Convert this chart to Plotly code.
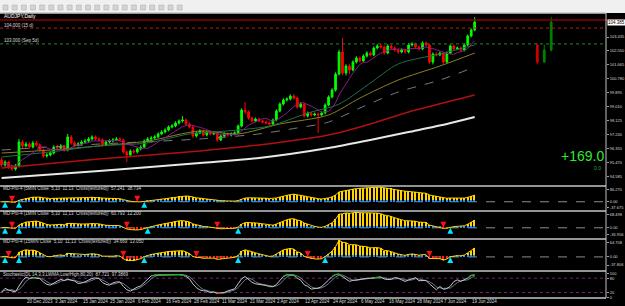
import numpy as np
import pandas as pd
import plotly.graph_objects as go

# ---------------- data ----------------
symbol_title = "AUDJPY,Daily"
first_day = "2023-12-08"
last_day = "2024-06-20"
holidays = ["2023-12-25", "2024-01-01"]

opens = [95.65, 95.33, 95.52, 95.21, 95.08, 95.27, 96.79, 96.54, 96.66, 96.47,
         96.73, 96.60, 96.28, 95.90, 95.97, 96.09, 96.47, 96.41, 96.54, 96.28,
         97.11, 96.73, 96.60, 96.66, 96.79, 96.85, 96.98, 97.11, 96.98, 96.92,
         96.60, 96.79, 96.85, 96.92, 96.98, 96.92, 96.16, 95.97, 96.22, 96.16,
         96.35, 96.47, 96.85, 96.98, 97.04, 97.11, 97.30, 97.42, 97.55, 97.74,
         97.80, 97.99, 98.12, 98.18, 97.93, 97.74, 97.17, 97.36, 97.49, 97.23,
         97.42, 97.30, 97.36, 96.92, 97.17, 97.30, 97.23, 97.30, 97.36, 97.80,
         98.81, 98.69, 98.31, 98.12, 98.24, 98.12, 98.05, 97.99, 97.93, 98.18,
         98.75, 99.19, 99.45, 99.51, 99.70, 99.57, 99.00, 99.19, 98.43, 98.62,
         98.50, 98.56, 98.50, 98.62, 99.13, 99.64, 100.08, 101.09, 102.49, 101.16,
         101.60, 101.35, 101.85, 102.11, 101.92, 102.23, 102.42, 102.30, 102.74, 102.87,
         102.80, 102.42, 102.87, 102.74, 102.61, 102.49, 102.61, 102.49, 102.93, 102.99,
         102.80, 102.68, 103.06, 102.93, 101.85, 102.36, 102.30, 102.42, 101.85, 102.42,
         102.87, 102.68, 102.74, 102.61, 102.93, 103.50, 103.88]
highs = [95.80, 95.63, 95.60, 95.35, 95.40, 96.98, 96.92, 96.80, 96.78, 96.85,
         96.86, 96.70, 96.36, 96.08, 96.20, 96.58, 96.60, 96.66, 96.62, 97.30,
         97.22, 96.85, 96.78, 96.90, 96.98, 97.10, 97.22, 97.20, 97.08, 97.02,
         96.90, 96.96, 97.04, 97.10, 97.08, 97.00, 96.25, 96.32, 96.33, 96.45,
         96.58, 96.95, 97.10, 97.16, 97.22, 97.40, 97.54, 97.66, 97.84, 97.92,
         98.10, 98.22, 98.43, 98.28, 98.02, 97.84, 97.46, 97.60, 97.58, 97.52,
         97.52, 97.48, 97.44, 97.28, 97.40, 97.38, 97.40, 97.46, 97.90, 98.92,
         99.32, 98.78, 98.40, 98.34, 98.32, 98.20, 98.14, 98.08, 98.28, 98.86,
         99.30, 99.56, 99.62, 99.80, 99.82, 99.66, 99.30, 99.28, 98.72, 98.70,
         98.66, 98.66, 98.72, 99.24, 99.74, 100.20, 101.20, 102.62, 103.37, 101.72,
         101.75, 101.96, 102.22, 102.20, 102.34, 102.54, 102.52, 102.84, 102.98, 102.98,
         102.90, 102.98, 102.96, 102.84, 102.70, 102.72, 102.70, 103.04, 103.10, 103.08,
         102.90, 103.16, 103.16, 103.02, 102.46, 102.46, 102.52, 102.50, 102.52, 102.96,
         102.96, 102.84, 102.84, 103.04, 103.60, 103.98, 104.70]
lows = [95.20, 95.22, 95.10, 94.96, 94.98, 95.18, 96.40, 96.45, 96.36, 96.38,
        96.50, 96.18, 95.78, 95.80, 95.88, 96.00, 96.32, 96.30, 96.18, 96.20,
        96.62, 96.48, 96.50, 96.55, 96.70, 96.74, 96.88, 96.88, 96.80, 96.50,
        96.52, 96.70, 96.76, 96.84, 96.82, 96.05, 95.52, 95.88, 96.04, 96.06,
        96.26, 96.40, 96.76, 96.88, 96.95, 97.02, 97.22, 97.34, 97.46, 97.66,
        97.72, 97.90, 98.02, 97.84, 97.64, 97.06, 97.08, 97.28, 97.14, 97.14,
        97.20, 97.22, 96.80, 96.84, 97.08, 97.12, 97.14, 97.22, 97.28, 97.72,
        98.58, 98.20, 98.02, 98.04, 98.02, 97.96, 97.90, 97.84, 97.86, 98.10,
        98.66, 99.10, 99.36, 99.42, 99.46, 98.90, 98.92, 98.34, 98.34, 98.40,
        98.42, 97.36, 98.42, 98.54, 99.06, 99.56, 99.98, 101.00, 101.02, 101.00,
        101.08, 101.26, 101.76, 101.82, 101.84, 102.14, 102.20, 102.22, 102.66, 102.70,
        102.32, 102.34, 102.64, 102.50, 102.38, 102.40, 102.38, 102.40, 102.84, 102.70,
        102.58, 102.60, 102.84, 101.74, 101.70, 102.20, 102.22, 101.74, 101.78, 102.34,
        102.58, 102.60, 102.52, 102.52, 102.86, 103.42, 103.80]
closes = [95.33, 95.52, 95.21, 95.08, 95.27, 96.79, 96.54, 96.66, 96.47, 96.73,
          96.60, 96.28, 95.90, 95.97, 96.09, 96.47, 96.41, 96.54, 96.28, 97.11,
          96.73, 96.60, 96.66, 96.79, 96.85, 96.98, 97.11, 96.98, 96.92, 96.60,
          96.79, 96.85, 96.92, 96.98, 96.92, 96.16, 95.97, 96.22, 96.16, 96.35,
          96.47, 96.85, 96.98, 97.04, 97.11, 97.30, 97.42, 97.55, 97.74, 97.80,
          97.99, 98.12, 98.18, 97.93, 97.74, 97.17, 97.36, 97.49, 97.23, 97.42,
          97.30, 97.36, 96.92, 97.17, 97.30, 97.23, 97.30, 97.36, 97.80, 98.81,
          98.69, 98.31, 98.12, 98.24, 98.12, 98.05, 97.99, 97.93, 98.18, 98.75,
          99.19, 99.45, 99.51, 99.70, 99.57, 99.00, 99.19, 98.43, 98.62, 98.50,
          98.56, 98.50, 98.62, 99.13, 99.64, 100.08, 101.09, 102.49, 101.16, 101.60,
          101.35, 101.85, 102.11, 101.92, 102.23, 102.42, 102.30, 102.74, 102.87, 102.80,
          102.42, 102.87, 102.74, 102.61, 102.49, 102.61, 102.49, 102.93, 102.99, 102.80,
          102.68, 103.06, 102.93, 101.85, 102.36, 102.30, 102.42, 101.85, 102.42, 102.87,
          102.68, 102.74, 102.61, 102.93, 103.50, 103.88, 104.385]

# moving-average lines (bar number, price)
ma_white_bars = [0, 28, 57, 74, 94, 106, 117, 128, 136]
ma_white = [94.51, 94.95, 95.46, 95.78, 96.41, 96.92, 97.42, 97.93, 98.37]
ma_red_bars = [0, 28, 57, 74, 94, 106, 117, 128, 136]
ma_red = [95.14, 95.71, 96.22, 96.60, 97.23, 97.93, 98.69, 99.32, 99.76]
ma_grey_bars = [0, 28, 57, 74, 85, 94, 103, 114, 126, 136]
ma_grey = [96.28, 96.66, 96.98, 97.30, 97.68, 98.05, 98.94, 99.95, 100.71, 101.54]
ma_olive_bars = [0, 14, 28, 42, 57, 68, 80, 94, 103, 114, 126, 136]
ma_olive = [96.09, 96.28, 96.54, 96.85, 97.49, 97.30, 97.93, 98.50, 99.57, 100.71, 101.60, 102.42]
ma_green_bars = [0, 14, 28, 42, 54, 65, 77, 88, 97, 106, 114, 126, 136]
ma_green = [95.84, 96.16, 96.54, 96.73, 97.30, 97.49, 97.80, 98.62, 99.19, 100.52, 101.73, 102.36, 102.93]

main_ticks = [103.435, 102.550, 101.665, 100.780, 99.895, 99.010, 98.125,
              97.240, 96.355, 95.470, 94.585]
level_prices = [104.51, 104.00, 103.00]
level_labels = ["104.000 (15 d)", "103.000 (Sep 5d)"]

date_labels = ["8 Dec 2023", "20 Dec 2023", "3 Jan 2024", "15 Jan 2024", "25 Jan 2024",
               "6 Feb 2024", "16 Feb 2024", "28 Feb 2024", "11 Mar 2024", "21 Mar 2024",
               "2 Apr 2024", "12 Apr 2024", "24 Apr 2024", "6 May 2024", "16 May 2024",
               "28 May 2024", "7 Jun 2024", "19 Jun 2024"]

macd_params = [(12, 26), (8, 17), (5, 10)]
macd_zero_share = [0.37, 0.40, 0.44]   # share of each panel below its zero line
macd_labels = ["MD-Pro-4 (5MIN Close  5,10  11,13  Cross(textured))  57.241  38.734",
               "MD-Pro-4 (1MIN Close  5,10  11,13  Cross(textured))  60.793  12.200",
               "MD-Pro-4 (15MIN Close  5,10  11,13  Cross(textured))  34.669  13.050"]
stoch_label = "Stochastic(DL 14,3,3,LWMA,Low/High,80,20)  87.721  97.3869"
stoch_levels = [80, 20]
profit_text = "+169.0"
profit_sub = "0.0"

# ---------------- derived ----------------
n = len(closes)
idx = np.arange(n)
days = pd.bdate_range(first_day, last_day)
days = days[~days.isin(pd.to_datetime(holidays))]
day_pos = {d: k - 1 for k, d in enumerate(days)}
label_pos = [day_pos[pd.to_datetime(t, format="%d %b %Y")] for t in date_labels]

cl = pd.Series(closes)
ma_fast = cl.rolling(8, min_periods=1).mean()

week_key = days[1:].to_period("W")
wk = pd.DataFrame({"o": opens, "h": highs, "l": lows, "c": closes, "w": week_key})
weekly = wk.groupby("w").agg(o=("o", "first"), h=("h", "max"), l=("l", "min"), c=("c", "last")).tail(3)

X0, X1 = -0.458, 173.75
FONT = "Liberation Sans"
TXT = "#d8d8d8"


def py(p):
    return (298 - p) / 285


fig = go.Figure()

# main chart
for bars, vals, col, w, dash in [
    (ma_white_bars, ma_white, "#e8e8e8", 2, "solid"),
    (ma_red_bars, ma_red, "#b01010", 1.5, "solid"),
    (ma_grey_bars, ma_grey, "#7a7a7a", 1, "dash"),
    (ma_olive_bars, ma_olive, "#8a8020", 1, "solid"),
    (ma_green_bars, ma_green, "#1f6e4a", 1, "solid"),
]:
    fig.add_trace(go.Scatter(x=bars, y=vals, mode="lines", yaxis="y",
                             line=dict(color=col, width=w, dash=dash, shape="spline", smoothing=0.8),
                             hoverinfo="skip"))
fig.add_trace(go.Scatter(x=idx, y=ma_fast, mode="lines", yaxis="y",
                         line=dict(color="#8a1a8a", width=1), hoverinfo="skip"))
fig.add_trace(go.Candlestick(x=idx, open=opens, high=highs, low=lows, close=closes, yaxis="y",
                             increasing=dict(line=dict(color="#00ff00", width=1), fillcolor="#00ff00"),
                             decreasing=dict(line=dict(color="#ff0000", width=1), fillcolor="#ff0000"),
                             whiskerwidth=0))
wx = [n + 17 + 2 * k for k in range(len(weekly))]
fig.add_trace(go.Candlestick(x=wx, open=weekly["o"], high=weekly["h"], low=weekly["l"], close=weekly["c"],
                             yaxis="y",
                             increasing=dict(line=dict(color="#008000", width=1), fillcolor="#008000"),
                             decreasing=dict(line=dict(color="#d00000", width=1), fillcolor="#d00000"),
                             whiskerwidth=0))

shapes = []
annotations = []
axes = {}

# MACD panels
domains = [(py(211), py(186)), (py(239), py(211)), (py(271), py(239))]
for k, ((fast, slow), dom, f) in enumerate(zip(macd_params, domains, macd_zero_share)):
    ya = "y%d" % (k + 2)
    v = ((cl.ewm(span=fast, adjust=False).mean() - cl.ewm(span=slow, adjust=False).mean()) * 100).to_numpy()
    vmax, vmin = max(v.max(), 0), min(v.min(), 0)
    cap = 0.11 * max(vmax, -vmin)
    small = np.clip(v, -cap, cap)
    fig.add_trace(go.Bar(x=idx, y=v, yaxis=ya, width=0.42, marker=dict(color="#ffd200", line=dict(width=0)),
                         hoverinfo="skip"))
    fig.add_trace(go.Bar(x=idx, y=small, yaxis=ya, width=0.42,
                         marker=dict(color=np.where(small >= 0, "#1e90ff", "#ff2020"), line=dict(width=0)),
                         hoverinfo="skip"))
    fig.add_trace(go.Scatter(x=idx, y=v, yaxis=ya, mode="lines", line=dict(color="#ffd200", width=1),
                             hoverinfo="skip"))
    up = [i for i in range(1, n) if v[i - 1] <= 0 < v[i]]
    dn = [i for i in range(1, n) if v[i - 1] >= 0 > v[i]]
    fig.add_trace(go.Scatter(x=up, y=[0] * len(up), yaxis=ya, mode="markers",
                             marker=dict(symbol="arrow-up", size=6, color="#00e5ff"), hoverinfo="skip"))
    fig.add_trace(go.Scatter(x=dn, y=[0] * len(dn), yaxis=ya, mode="markers",
                             marker=dict(symbol="arrow-down", size=6, color="#ff1010"), hoverinfo="skip"))
    hi = vmax * 1.08
    lo = min(vmin * 1.08, -hi * f / (1 - f))
    hi_tick = hi * 0.78
    lo_tick = lo * 0.58
    axes["yaxis%d" % (k + 2)] = dict(domain=list(dom), range=[lo, hi],
                                     tickvals=[hi_tick, 0, lo_tick],
                                     ticktext=["%.3f" % hi_tick, "0.00", "%.3f" % lo_tick])
    shapes.append(dict(type="line", xref="x", yref=ya, x0=X0, x1=X1, y0=0, y1=0, layer="below",
                       line=dict(color="#8c8c8c", width=1, dash="dash")))
    annotations.append(dict(text=macd_labels[k], xref="paper", yref="paper", x=0.002, y=dom[1] - 0.0105,
                            xanchor="left", yanchor="middle", showarrow=False,
                            font=dict(size=4.5, color=TXT, family=FONT)))

# stochastic
hh = pd.Series(highs).rolling(14, min_periods=1).max()
ll = pd.Series(lows).rolling(14, min_periods=1).min()
k_line = (100 * (cl - ll) / (hh - ll)).rolling(3, min_periods=1).mean()
d_line = k_line.rolling(3, min_periods=1).mean()
fig.add_trace(go.Scatter(x=idx, y=d_line, yaxis="y5", mode="lines", line=dict(color="#6c7890", width=1),
                         hoverinfo="skip"))
fig.add_trace(go.Scatter(x=idx, y=k_line, yaxis="y5", mode="lines", line=dict(color="#c8c8c8", width=1),
                         hoverinfo="skip"))
fig.add_trace(go.Scatter(x=idx, y=k_line.where(k_line >= 80), yaxis="y5", mode="lines",
                         line=dict(color="#1fae1f", width=1.2), hoverinfo="skip"))
fig.add_trace(go.Scatter(x=idx, y=k_line.where(k_line <= 20), yaxis="y5", mode="lines",
                         line=dict(color="#ff2020", width=1.2), hoverinfo="skip"))
for lv in stoch_levels:
    shapes.append(dict(type="line", xref="paper", yref="y5", x0=0, x1=1, y0=lv, y1=lv, layer="below",
                       line=dict(color="#7a1f7a", width=1, dash="dot")))
annotations.append(dict(text=stoch_label, xref="paper", yref="paper", x=0.002, y=py(274.5),
                        xanchor="left", yanchor="middle", showarrow=False,
                        font=dict(size=4.5, color=TXT, family=FONT)))

# main chart levels & labels
shapes.append(dict(type="line", xref="paper", yref="y", x0=0, x1=625 / 608, y0=level_prices[0],
                   y1=level_prices[0], line=dict(color="#8b0000", width=1.5)))
shapes.append(dict(type="line", xref="paper", yref="y", x0=0, x1=1, y0=level_prices[1], y1=level_prices[1],
                   line=dict(color="#c01818", width=1, dash="dot")))
shapes.append(dict(type="line", xref="paper", yref="y", x0=0, x1=1, y0=level_prices[2], y1=level_prices[2],
                   line=dict(color="#1f8a1f", width=1, dash="dot")))
annotations.append(dict(text=symbol_title, xref="paper", yref="paper", x=0.003, y=py(15.5), xanchor="left",
                        yanchor="middle", showarrow=False, font=dict(size=5, color="#ffffff", family=FONT)))
for lab, lv in zip(level_labels, level_prices[1:]):
    annotations.append(dict(text=lab, xref="paper", yref="y", x=0.003, y=lv, yshift=3, xanchor="left",
                            yanchor="middle", showarrow=False, font=dict(size=4.5, color=TXT, family=FONT)))
annotations.append(dict(text="%.3f" % closes[-1], xref="paper", yref="y", x=1.0, y=closes[-1], xanchor="left",
                        yanchor="middle", showarrow=False, bgcolor="#ffffff", borderpad=0, xshift=1,
                        font=dict(size=4.5, color="#000000", family=FONT)))
annotations.append(dict(text=profit_text, xref="paper", yref="paper", x=584 / 608, y=py(156), xanchor="center",
                        yanchor="middle", showarrow=False, font=dict(size=14, color="#33e633", family=FONT)))
annotations.append(dict(text=profit_sub, xref="paper", yref="paper", x=599 / 608, y=py(168.5), xanchor="center",
                        yanchor="middle", showarrow=False, font=dict(size=5, color="#22aa22", family=FONT)))

# date labels
for t, p in zip(date_labels, label_pos):
    annotations.append(dict(text=t, xref="x", yref="paper", x=p, y=py(301.5), xanchor="left", xshift=-1,
                            yanchor="middle", showarrow=False, font=dict(size=4.5, color=TXT, family=FONT)))

# frame: toolbar band, separators, right axis line
shapes.append(dict(type="rect", xref="paper", yref="paper", x0=-0.01, x1=1.05, y0=1, y1=py(-1),
                   fillcolor="#f0f0f0", line=dict(width=0)))
for k in range(20):
    shapes.append(dict(type="rect", xref="paper", yref="paper", x0=(3 + 9.2 * k) / 608, x1=(8 + 9.2 * k) / 608,
                       y0=py(10), y1=py(5), fillcolor="#d4d4d4", line=dict(color="#a8a8a8", width=0.5)))
for p in [13, 186, 211, 239, 271, 298]:
    shapes.append(dict(type="line", xref="paper", yref="paper", x0=0, x1=1, y0=py(p), y1=py(p),
                       line=dict(color="#c4c4c4", width=1.5)))
shapes.append(dict(type="line", xref="paper", yref="paper", x0=1, x1=1, y0=0, y1=1,
                   line=dict(color="#c4c4c4", width=1)))

yax_common = dict(side="right", anchor="x", showgrid=False, zeroline=False, showline=False,
                  ticks="outside", ticklen=2, tickcolor="#a0a0a0", ticklabeloverflow="allow",
                  tickfont=dict(size=4.0, color=TXT, family=FONT), fixedrange=True)
layout_axes = {
    "yaxis": dict(yax_common, domain=[py(186), 1], range=[94.004, 104.955], tickvals=main_ticks,
                  ticktext=["%.3f" % t for t in main_ticks]),
    "yaxis5": dict(yax_common, domain=[0, py(271)], range=[-3, 110], tickvals=[100, 80, 20, 0],
                   ticktext=["100", "80", "20", "0"]),
}
for key, val in axes.items():
    layout_axes[key] = dict(yax_common, **val)

fig.update_layout(
    width=625, height=306, margin=dict(l=0, r=17, t=13, b=8, pad=0),
    paper_bgcolor="#000000", plot_bgcolor="#000000", showlegend=False, barmode="overlay", bargap=0,
    xaxis=dict(range=[X0, X1], showticklabels=False, showgrid=False, zeroline=False, showline=False,
               rangeslider=dict(visible=False), fixedrange=True),
    shapes=shapes, annotations=annotations, **layout_axes,
)

fig.write_html("out.html")
